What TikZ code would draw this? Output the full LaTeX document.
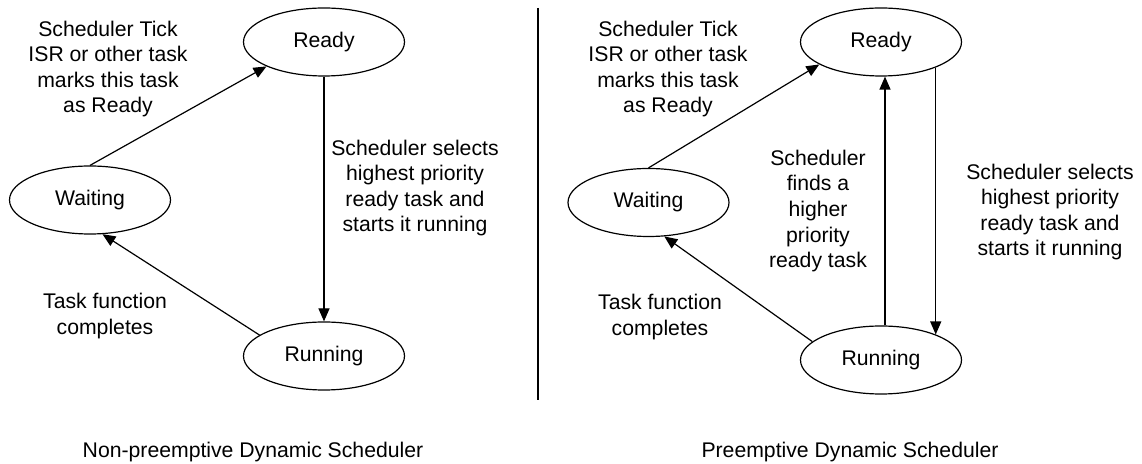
\documentclass[tikz,border=0pt]{standalone}
\usepackage{fontspec}
\setmainfont{Liberation Sans}
\usetikzlibrary{shapes.geometric,arrows.meta}

\begin{document}
\begin{tikzpicture}[x=0.5pt, y=-0.5pt,
    font=\fontsize{10.6}{12.8}\selectfont,
    state/.style={draw, ellipse, line width=0.6pt, inner sep=0pt, minimum width=80.5pt, minimum height=34pt},
    lbl/.style={align=center, inner sep=0pt},
    trans/.style={-{Triangle[length=6.5pt,width=5.5pt]}, line width=0.6pt}]
    \useasboundingbox (0,0) rectangle (1142,464);

    % Non-preemptive scheduler (left)
    \node[state] (readyL) at (324,42) {Ready};
    \node[state] (waitL) at (90,200) {Waiting};
    \node[state] (runL) at (324,356) {Running};

    \draw[trans] (waitL.north) -- (readyL.203);
    \draw[trans] (readyL.south) -- (runL.north);
    \draw[trans] (runL.162) -- (waitL.290);

    \node[lbl] (tickL) at (108,69) {Scheduler Tick\\ISR or other task\\marks this task\\as Ready};
    \node[lbl] (selL) at (415,188) {Scheduler selects\\highest priority\\ready task and\\starts it running};
    \node[lbl] (doneL) at (105,316) {Task function\\completes};

    % Divider
    \draw[line width=0.6pt] (538,8) -- (538,400);

    % Preemptive scheduler (right)
    \node[state] (readyR) at (881,42) {Ready};
    \node[state] (waitR) at (648.5,202.5) {Waiting};
    \node[state] (runR) at (881,360) {Running};

    \draw[trans] (waitR.north) -- (readyR.200);
    \draw[trans] ([xshift=2pt]runR.north) -- ([xshift=2pt]readyR.south);
    \draw[trans] (readyR.335) -- (runR.25);
    \draw[trans] (runR.165) -- (waitR.295);

    \node[lbl] (tickR) at (668,69) {Scheduler Tick\\ISR or other task\\marks this task\\as Ready};
    \node[lbl] (findR) at (818,211) {Scheduler\\finds a\\higher\\priority\\ready task};
    \node[lbl] (selR) at (1050,212) {Scheduler selects\\highest priority\\ready task and\\starts it running};
    \node[lbl] (doneR) at (660,317) {Task function\\completes};

    % Captions
    \node[lbl] (capL) at (253,452) {Non-preemptive Dynamic Scheduler};
    \node[lbl] (capR) at (850,452) {Preemptive Dynamic Scheduler};
\end{tikzpicture}
\end{document}
